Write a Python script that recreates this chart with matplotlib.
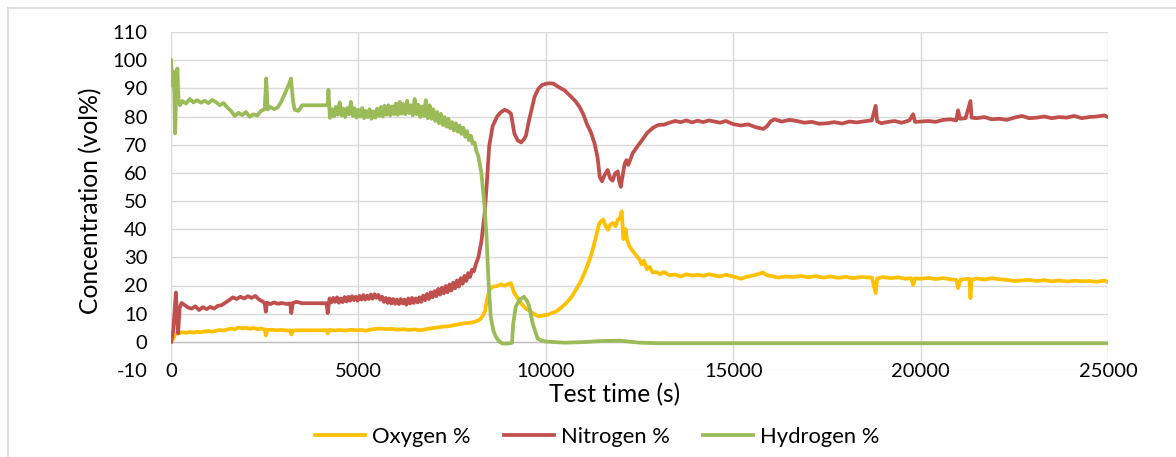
import matplotlib
matplotlib.use("Agg")
import matplotlib.pyplot as plt
from matplotlib.lines import Line2D

plt.rcParams["font.family"] = ["Lato", "DejaVu Sans"]
plt.rcParams["axes.unicode_minus"] = False

# (test time s, concentration vol%)
oxygen_pts = [
    (0, 0), (60, 1), (120, 3), (200, 3), (300, 3.4), (400, 3.2), (500, 3.5), (600, 3.3),
    (700, 3.6), (800, 3.4), (900, 3.7), (1000, 3.8), (1100, 3.6), (1200, 3.9), (1300, 4.2),
    (1400, 4.0), (1500, 4.4), (1600, 4.7), (1700, 4.4), (1800, 5.1), (1900, 4.8), (2000, 5.0),
    (2100, 4.6), (2200, 4.9), (2300, 4.5), (2400, 4.7), (2500, 4.4), (2530, 2.3), (2570, 4.2),
    (2700, 4.3), (2820, 4.1), (2950, 4.2), (3100, 4.0), (3180, 4.1), (3210, 2.6), (3250, 4.0),
    (3350, 4.1), (3500, 4.1), (4150, 4.1), (4180, 3.0), (4230, 4.3), (4350, 4.0), (4500, 4.2),
    (4650, 4.0), (4800, 4.3), (4950, 4.1), (5100, 4.2), (5200, 3.9), (5300, 4.3), (5450, 4.6),
    (5600, 4.7), (5750, 4.5), (5900, 4.6), (6050, 4.3), (6200, 4.5), (6350, 4.2), (6500, 4.4),
    (6650, 4.1), (6800, 4.5), (6950, 4.8), (7100, 5.1), (7250, 5.4), (7400, 5.5), (7550, 5.9),
    (7700, 6.3), (7850, 6.6), (8000, 6.8), (8150, 7.3), (8250, 8.0), (8330, 9.5), (8380, 11.0),
    (8440, 15.5), (8500, 18.5), (8580, 19.6), (8700, 19.8), (8800, 20.4), (8900, 19.9),
    (9000, 20.6), (9070, 20.8), (9150, 17.5), (9250, 15.5), (9340, 13.7), (9450, 12.0),
    (9600, 10.7), (9700, 9.7), (9820, 9.0), (9950, 9.4), (10050, 9.6), (10150, 10.2),
    (10270, 10.7), (10400, 12.0), (10540, 13.7), (10680, 15.8), (10800, 18.4), (10920, 21.2),
    (11030, 24.4), (11150, 28.5), (11250, 32.7), (11350, 38.0), (11430, 42.2), (11530, 43.4),
    (11600, 41.0), (11660, 39.8), (11720, 41.6), (11790, 42.2), (11860, 41.0), (11920, 43.4),
    (11980, 44.0), (12025, 46.3), (12070, 36.5), (12130, 40.0), (12170, 36.0), (12230, 34.0),
    (12330, 32.0), (12420, 30.5), (12500, 29.2), (12560, 27.5), (12620, 28.8), (12700, 25.8),
    (12770, 26.6), (12850, 24.6), (12950, 24.8), (13050, 24.0), (13150, 24.8), (13300, 23.6),
    (13450, 23.9), (13600, 23.2), (13750, 24.0), (13900, 23.5), (14050, 23.8), (14200, 23.4),
    (14350, 24.0), (14500, 23.6), (14650, 23.2), (14800, 23.8), (15000, 23.2), (15200, 22.4),
    (15400, 23.2), (15600, 23.8), (15800, 24.6), (15900, 23.6), (16000, 23.4), (16200, 22.8),
    (16400, 23.2), (16600, 23.0), (16800, 23.4), (17000, 22.9), (17200, 23.3), (17400, 22.8),
    (17600, 23.2), (17800, 22.7), (18000, 23.1), (18200, 22.6), (18400, 23.0), (18700, 22.8),
    (18800, 17.3), (18840, 22.5), (19000, 23.0), (19200, 22.6), (19400, 22.9), (19600, 22.4),
    (19750, 22.6), (19800, 20.2), (19850, 22.5), (20000, 22.4), (20200, 22.7), (20400, 22.3),
    (20600, 22.6), (20800, 22.2), (20950, 22.0), (21000, 19.1), (21060, 22.0), (21200, 22.3),
    (21300, 22.4), (21330, 15.5), (21360, 22.0), (21500, 22.5), (21700, 22.1), (21900, 22.6),
    (22100, 22.2), (22300, 22.0), (22500, 21.6), (22700, 21.8), (22900, 22.0), (23100, 21.6),
    (23300, 21.9), (23500, 21.5), (23700, 21.8), (23900, 21.4), (24100, 21.7), (24300, 21.5),
    (24500, 21.6), (24700, 21.3), (24900, 21.8), (25000, 21.2),
]

nitrogen_pts = [
    (0, 0), (60, 4), (100, 12), (130, 17.5), (160, 9), (190, 3), (230, 12), (280, 13.8),
    (350, 13.2), (450, 12.2), (550, 11.8), (650, 12.6), (750, 11.3), (850, 12.3), (950, 11.6),
    (1050, 12.4), (1150, 11.8), (1250, 12.8), (1350, 13.0), (1450, 13.9), (1550, 14.8),
    (1650, 15.8), (1750, 15.2), (1850, 16.0), (1950, 15.4), (2050, 16.2), (2150, 15.6),
    (2250, 16.3), (2350, 15.0), (2450, 14.3), (2500, 13.6), (2530, 10.7), (2560, 13.9),
    (2650, 13.4), (2750, 14.0), (2850, 13.5), (2950, 13.8), (3100, 13.4), (3180, 13.6),
    (3210, 10.2), (3250, 13.8), (3350, 14.2), (3500, 13.7), (4150, 13.7), (4180, 10.2),
    (4230, 15.4), (4280, 14.0), (4330, 15.6), (4380, 14.2), (4430, 15.8), (4480, 13.9),
    (4530, 15.4), (4580, 14.1), (4630, 15.9), (4680, 14.3), (4730, 16.0), (4780, 14.6),
    (4830, 16.2), (4880, 14.8), (4930, 16.0), (4980, 14.6), (5030, 16.3), (5080, 15.0),
    (5130, 16.6), (5180, 15.0), (5230, 16.4), (5280, 15.2), (5330, 16.8), (5380, 15.3),
    (5430, 16.9), (5480, 15.6), (5530, 16.7), (5580, 15.0), (5630, 16.0), (5680, 14.2),
    (5730, 15.6), (5780, 13.8), (5830, 15.4), (5880, 13.6), (5930, 15.2), (5980, 13.5),
    (6030, 15.0), (6080, 13.4), (6130, 15.2), (6180, 13.6), (6230, 15.0), (6280, 13.2),
    (6330, 15.4), (6380, 13.6), (6430, 15.6), (6480, 13.8), (6530, 15.4), (6580, 14.0),
    (6630, 15.8), (6680, 14.2), (6730, 16.4), (6780, 14.8), (6830, 17.0), (6880, 15.2),
    (6930, 17.6), (6980, 15.8), (7030, 18.0), (7080, 16.2), (7130, 18.8), (7180, 16.8),
    (7230, 19.2), (7280, 17.2), (7330, 19.8), (7380, 17.6), (7430, 20.4), (7480, 18.2),
    (7530, 21.0), (7580, 19.0), (7630, 21.8), (7680, 19.6), (7730, 22.6), (7780, 20.6),
    (7830, 23.4), (7880, 21.6), (7930, 24.4), (7980, 23.0), (8030, 25.6), (8080, 25.0),
    (8130, 27.4), (8200, 30.0), (8280, 35.5), (8360, 44.5), (8420, 55.0), (8490, 69.5),
    (8580, 76.5), (8700, 80.0), (8800, 81.5), (8900, 82.4), (9000, 81.8), (9070, 81.0),
    (9120, 77.0), (9160, 74.0), (9250, 71.5), (9340, 70.8), (9420, 72.0), (9470, 73.2),
    (9550, 78.5), (9600, 81.3), (9700, 87.0), (9800, 89.8), (9900, 91.2), (10000, 91.6),
    (10100, 91.8), (10200, 91.7), (10300, 90.8), (10400, 90.0), (10500, 89.3), (10600, 88.0),
    (10700, 86.7), (10800, 85.3), (10900, 83.4), (11000, 80.8), (11100, 77.2), (11200, 74.5),
    (11300, 70.5), (11380, 65.5), (11440, 58.5), (11500, 57.0), (11560, 59.0), (11650, 61.0),
    (11720, 58.0), (11780, 57.2), (11850, 59.8), (11920, 60.5), (11960, 57.0), (12000, 55.0),
    (12050, 59.0), (12100, 63.0), (12150, 64.5), (12200, 62.8), (12320, 67.0), (12450, 69.5),
    (12580, 71.8), (12700, 74.1), (12850, 75.9), (13000, 77.0), (13150, 77.1), (13300, 77.8),
    (13450, 78.4), (13600, 78.0), (13750, 78.6), (13900, 77.9), (14050, 78.5), (14200, 78.0),
    (14350, 78.6), (14500, 78.2), (14650, 77.8), (14800, 78.4), (15000, 77.3), (15200, 76.8),
    (15400, 77.2), (15600, 76.2), (15800, 75.6), (15900, 76.5), (16000, 78.3), (16100, 79.0),
    (16300, 78.2), (16500, 78.8), (16700, 78.4), (16900, 77.8), (17100, 78.1), (17300, 77.4),
    (17500, 77.6), (17700, 78.0), (17900, 77.5), (18100, 78.2), (18300, 77.9), (18500, 78.3),
    (18700, 78.6), (18800, 83.8), (18840, 78.3), (18950, 77.6), (19100, 78.0), (19300, 78.4),
    (19500, 77.8), (19700, 78.6), (19800, 80.8), (19850, 78.1), (20000, 78.2), (20200, 78.4),
    (20400, 78.1), (20600, 78.8), (20800, 79.0), (20950, 78.6), (21000, 82.2), (21050, 79.2),
    (21200, 79.4), (21330, 85.5), (21360, 79.6), (21500, 79.4), (21700, 79.8), (21900, 79.0),
    (22100, 79.2), (22300, 78.8), (22500, 79.6), (22700, 80.2), (22900, 79.4), (23100, 79.6),
    (23300, 80.0), (23500, 79.4), (23700, 79.8), (23900, 79.6), (24100, 80.2), (24300, 79.4),
    (24500, 79.8), (24700, 80.0), (24900, 80.4), (25000, 79.8),
]

hydrogen_pts = [
    (0, 100), (20, 95), (40, 91), (60, 96), (90, 88), (110, 74), (140, 90), (170, 97),
    (200, 86), (240, 84), (300, 85.5), (400, 84.6), (500, 86.2), (600, 85.0), (700, 85.8),
    (800, 84.9), (900, 85.6), (1000, 84.7), (1100, 85.9), (1200, 85.1), (1300, 84.0),
    (1400, 84.8), (1500, 83.2), (1600, 82.0), (1700, 80.2), (1800, 81.3), (1900, 80.5),
    (2000, 81.6), (2100, 79.9), (2200, 80.8), (2300, 80.3), (2400, 82.0), (2500, 82.6),
    (2540, 93.5), (2580, 82.5), (2650, 83.4), (2750, 82.6), (2850, 83.2), (2950, 85.5),
    (3050, 88.5), (3150, 91.5), (3200, 93.5), (3260, 85.0), (3300, 82.4), (3400, 82.0),
    (3500, 84.0), (4180, 84.0), (4200, 89.5), (4240, 79.5), (4300, 82.6), (4350, 80.0),
    (4400, 83.4), (4450, 80.6), (4500, 85.0), (4550, 80.4), (4600, 82.8), (4650, 79.8),
    (4700, 83.0), (4750, 80.8), (4800, 85.2), (4850, 80.2), (4900, 82.9), (4950, 79.6),
    (5000, 82.4), (5050, 80.0), (5100, 83.0), (5150, 79.4), (5200, 82.0), (5250, 79.8),
    (5300, 82.6), (5350, 79.2), (5400, 81.8), (5450, 79.6), (5500, 82.8), (5550, 80.2),
    (5600, 83.4), (5650, 80.0), (5700, 83.8), (5750, 80.6), (5800, 84.0), (5850, 80.4),
    (5900, 83.6), (5950, 80.8), (6000, 84.6), (6050, 80.6), (6100, 85.2), (6150, 81.0),
    (6200, 84.4), (6250, 80.8), (6300, 85.6), (6350, 81.2), (6400, 84.0), (6450, 80.4),
    (6500, 86.2), (6550, 80.8), (6600, 84.2), (6650, 79.8), (6700, 83.6), (6750, 80.2),
    (6800, 85.8), (6850, 79.4), (6900, 84.0), (6950, 79.2), (7000, 82.6), (7050, 78.4),
    (7100, 81.6), (7150, 77.6), (7200, 81.0), (7250, 77.0), (7300, 79.8), (7350, 76.4),
    (7400, 79.2), (7450, 75.8), (7500, 78.0), (7550, 75.0), (7600, 77.6), (7650, 74.6),
    (7700, 76.8), (7750, 73.8), (7800, 76.0), (7850, 72.8), (7900, 74.8), (7950, 71.6),
    (8000, 73.2), (8050, 70.4), (8100, 70.8), (8150, 67.6), (8200, 66.0), (8280, 60.0),
    (8360, 49.0), (8420, 37.0), (8470, 22.0), (8530, 9.0), (8600, 4.0), (8670, 1.8),
    (8750, 0.2), (8850, -0.6), (9000, -0.6), (9100, -0.3), (9130, 6.5), (9200, 12.5),
    (9300, 15.0), (9420, 16.0), (9500, 14.5), (9560, 12.5), (9650, 6.5), (9780, 1.2),
    (9900, 0.4), (10000, 0.1), (10500, -0.3), (11000, -0.1), (11500, 0.3), (12000, 0.4),
    (12500, -0.3), (13000, -0.5), (25000, -0.5),
]

series_names = ["Oxygen %", "Nitrogen %", "Hydrogen %"]
series_colors = ["#FFC000", "#C0504D", "#9BBB59"]

x_ticks = [0, 5000, 10000, 15000, 20000, 25000]
y_ticks = list(range(-10, 111, 10))

W, H = 1176, 457
fig = plt.figure(figsize=(W / 100, H / 100), dpi=100)
ax = fig.add_axes([171 / W, 1 - 370 / H, (1108 - 171) / W, (370 - 32) / H])


def fit_size(text, target_px):
    # font size that makes `text` about target_px wide
    r = fig.canvas.get_renderer()
    t = fig.text(0, 0, text, fontsize=10)
    w = t.get_window_extent(r).width
    t.remove()
    return 10 * target_px / w


tick_fs = fit_size("10000", 58)
title_fs = fit_size("Test time (s)", 132)
legend_fs = fit_size("Oxygen %", 98)
legend_px = legend_fs * 100 / 72

# outer chart frame (only top/left edges are visible in the crop)
fig.add_artist(Line2D([8 / W, 8 / W], [0, 1 - 8 / H], color="#D9D9D9", lw=1.2))
fig.add_artist(Line2D([8 / W, 1], [1 - 8 / H, 1 - 8 / H], color="#D9D9D9", lw=1.2))

for pts, name, col in zip([oxygen_pts, nitrogen_pts, hydrogen_pts], series_names, series_colors):
    t, v = zip(*pts)
    ax.plot(t, v, color=col, lw=2.7, label=name, solid_joinstyle="round", zorder=3)

ax.axhline(0, color="#BFBFBF", lw=1.0, zorder=1)

ax.set_xlim(0, 25000)
ax.set_ylim(-10, 110)
ax.set_xticks(x_ticks)
ax.set_yticks(y_ticks)
ax.grid(True, color="#D9D9D9", lw=1.0, zorder=0)
ax.set_axisbelow(True)
for s in ax.spines.values():
    s.set_visible(False)

ax.tick_params(axis="both", length=0, labelsize=tick_fs, colors="#000000")
ax.tick_params(axis="y", pad=17)
ax.tick_params(axis="x", pad=-5)
for lab in ax.get_xticklabels():
    lab.set_bbox(dict(facecolor="white", edgecolor="none", pad=1.0))

ax.set_xlabel("Test time (s)", fontsize=title_fs, va="center")
ax.xaxis.set_label_coords((615 - 171) / 937, -(395 - 370) / 338)
ax.set_ylabel("Concentration (vol%)", fontsize=title_fs, va="center")
ax.yaxis.set_label_coords(-(171 - 91) / 937, 0.5)

fig.legend(loc="center", bbox_to_anchor=(597 / W, 1 - 437 / H), ncol=3, frameon=False,
           fontsize=legend_fs, handlelength=50 / legend_px, handletextpad=7 / legend_px,
           columnspacing=33 / legend_px)

fig.savefig("out.png", dpi=100)
